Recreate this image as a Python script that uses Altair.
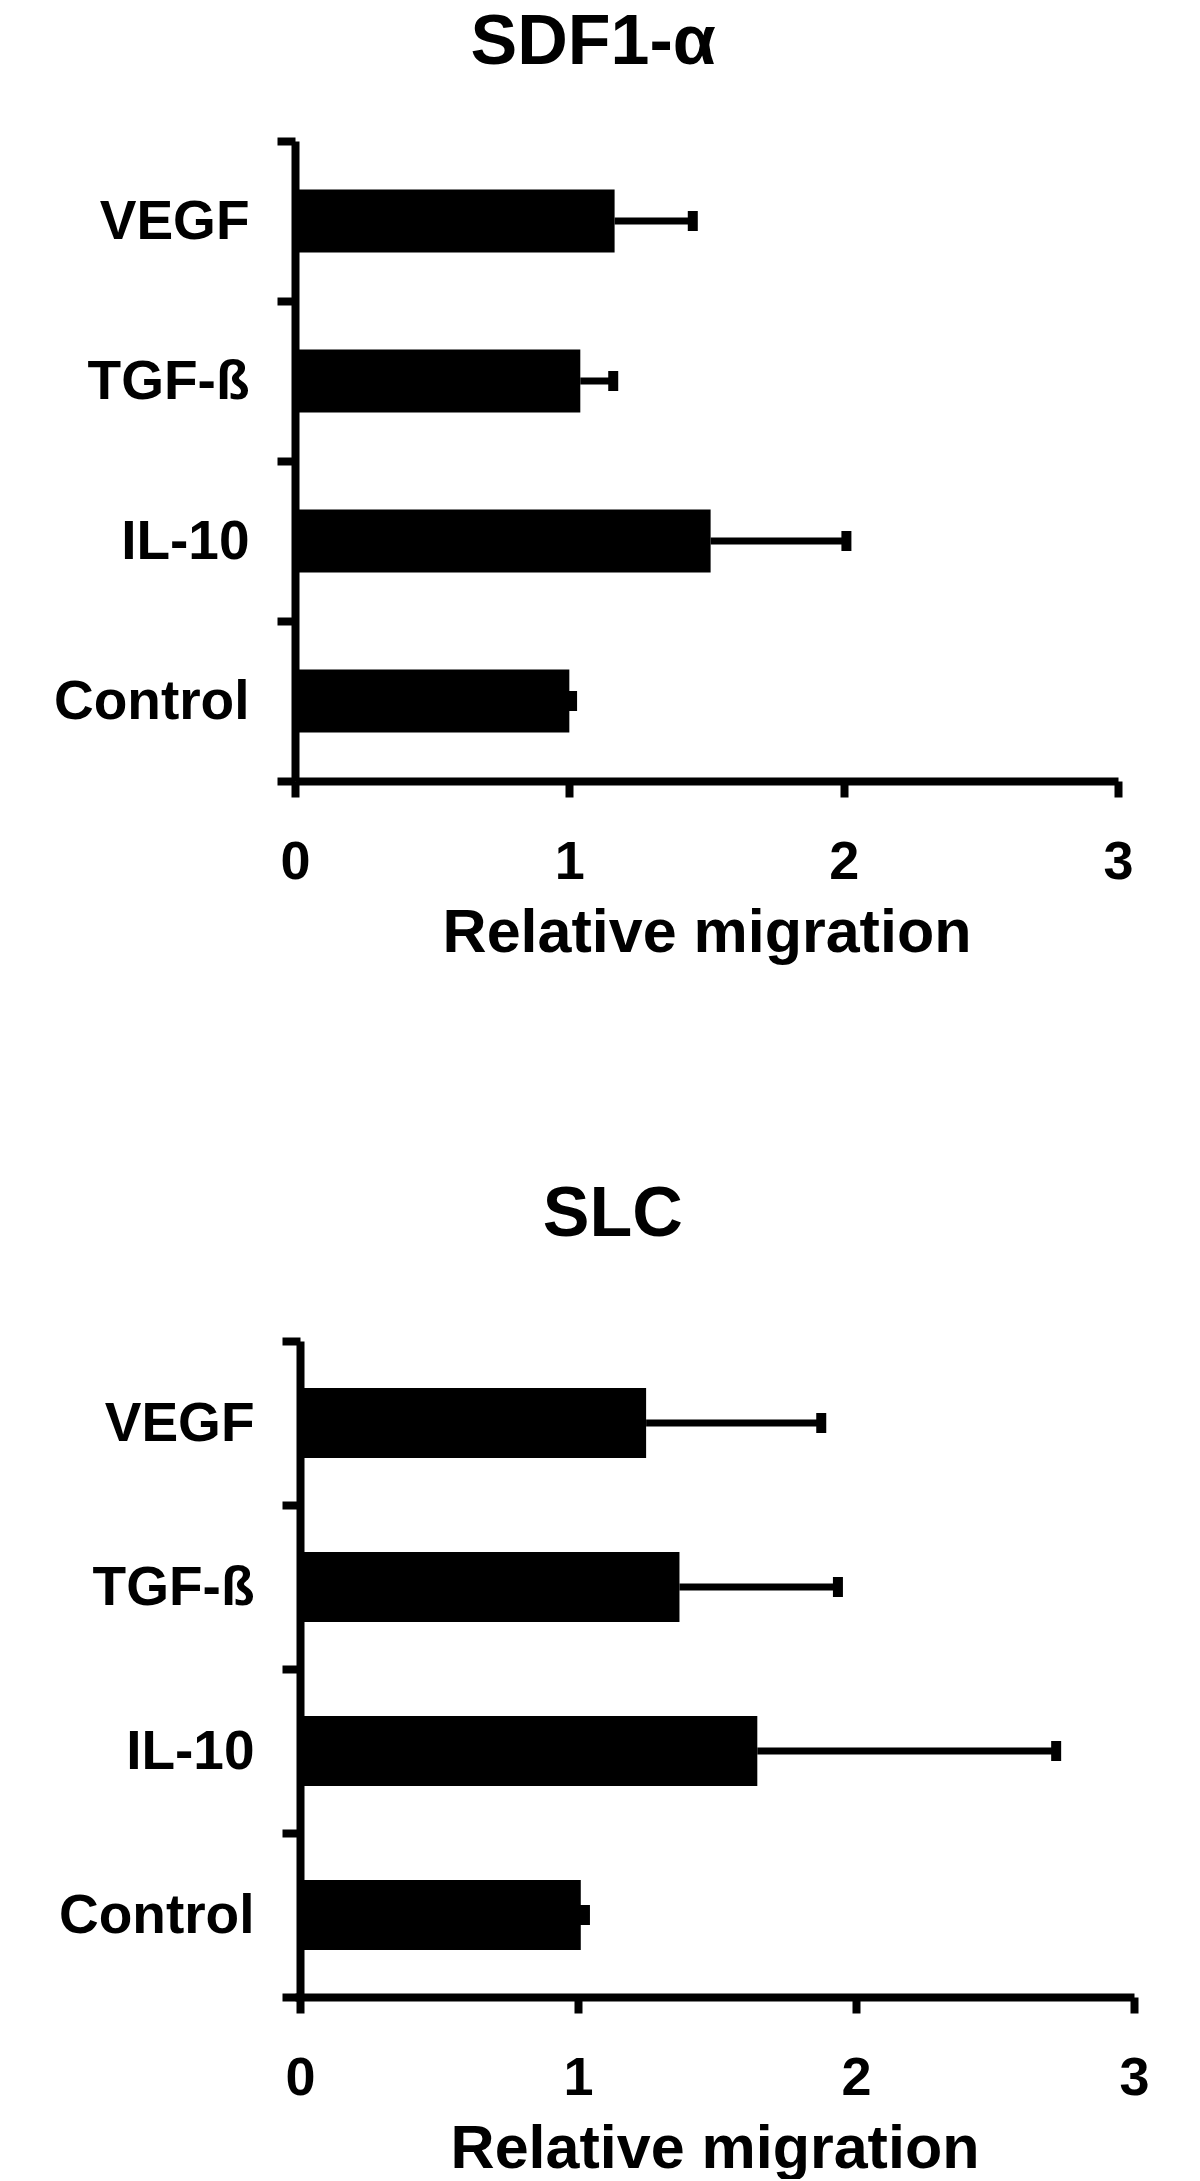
import altair as alt
import pandas as pd

categories = ["VEGF", "TGF-ß", "IL-10", "Control"]
sdf1_mean = [1.165, 1.04, 1.515, 1.00]
sdf1_upper = [1.45, 1.16, 2.01, 1.01]
slc_mean = [1.245, 1.365, 1.645, 1.01]
slc_upper = [1.875, 1.935, 2.72, 1.025]
x_ticks = [0, 1, 2, 3]
titles = ["SDF1-α", "SLC"]
x_title = "Relative migration"

FONT = "Liberation Sans"


def panel(title, means, uppers, width, height, bar_size, shift, title_offset, title_dx):
    df = pd.DataFrame({"cat": categories, "mean": means, "upper": uppers})
    unit = width / 3.0
    x_min = -shift / unit
    y = alt.Y("cat:N", sort=categories,
              scale=alt.Scale(paddingInner=0, paddingOuter=0),
              axis=alt.Axis(title=None, offset=-shift,
                            domainWidth=8, domainColor="black", tickWidth=8, tickSize=18,
                            tickColor="black", tickBand="extent", labelFont=FONT,
                            labelFontSize=55, labelFontWeight="bold", labelColor="black",
                            labelPadding=28, labelLimit=400, grid=False))
    x = alt.X("mean:Q",
              scale=alt.Scale(domain=[x_min, 3], nice=False, zero=True),
              axis=alt.Axis(values=x_ticks, title=x_title, format="d",
                            domainWidth=8, domainColor="black", tickWidth=8, tickSize=16,
                            tickColor="black", labelFont=FONT, labelFontSize=54,
                            labelFontWeight="bold", labelColor="black", labelPadding=38,
                            labelFlush=False, titleFont=FONT, titleFontSize=61,
                            titleFontWeight="bold", titleColor="black", titlePadding=14,
                            grid=False))
    base = alt.Chart(df)
    bars = base.mark_bar(color="black", size=bar_size).encode(x=x, y=y)
    err = base.mark_rule(color="black", strokeWidth=7).encode(
        x=alt.X("mean:Q"), x2="upper:Q", y=alt.Y("cat:N", sort=categories))
    caps = base.mark_tick(color="black", opacity=1, thickness=10, size=20).encode(
        x=alt.X("upper:Q"), y=alt.Y("cat:N", sort=categories))
    return alt.layer(err, caps, bars).properties(
        width=width + shift, height=height,
        title=alt.Title(title, font=FONT, fontSize=70, fontWeight="bold", color="black",
                        anchor="middle", frame="bounds", offset=title_offset, dx=title_dx),
    )


top = panel(titles[0], sdf1_mean, sdf1_upper, 823, 640, 63, 0, 35, 0)
bottom = panel(titles[1], slc_mean, slc_upper, 834, 656, 70, 5, 63, 9)

chart = alt.concat(top, bottom, columns=1, spacing=217).properties(
    padding={"left": 45, "top": 0, "right": 5, "bottom": 0}
).configure_view(stroke=None)

chart.save("out.html", embed_options={"renderer": "svg", "actions": False})
